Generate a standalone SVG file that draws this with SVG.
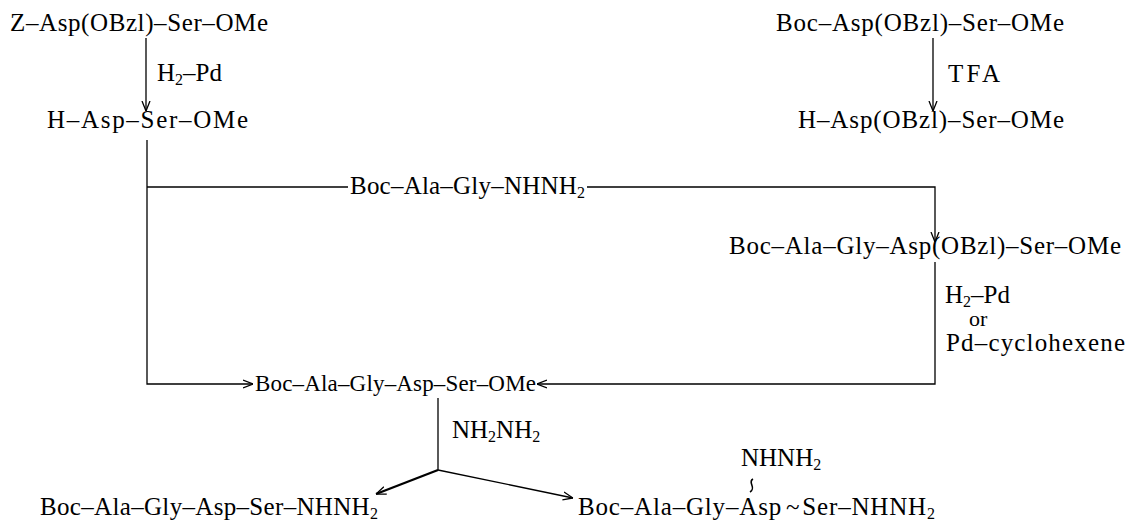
<svg xmlns="http://www.w3.org/2000/svg" width="1133" height="521" viewBox="0 0 1133 521">
<defs>
<style>
text{font-family:"Liberation Serif","Times New Roman",serif;font-size:25px;fill:#000}
.s{font-size:16px}
.ln{stroke:#000;stroke-width:1.3;fill:none}
.bd{stroke:#000;stroke-width:2.4;fill:none}
</style>
<marker id="ah" viewBox="0 0 10 10" refX="10" refY="5" markerWidth="10" markerHeight="10" markerUnits="userSpaceOnUse" orient="auto">
<path d="M0,1 L10,5 L0,9" fill="none" stroke="#000" stroke-width="1.3"/>
</marker>
</defs>
<rect width="1133" height="521" fill="#fff"/>
<g id="connectors">
<line class="ln" x1="146" y1="38" x2="146" y2="111" marker-end="url(#ah)"/>
<line class="ln" x1="933" y1="38" x2="933" y2="111" marker-end="url(#ah)"/>
<polyline class="ln" points="147,140 147,384 253,384" marker-end="url(#ah)"/>
<line class="ln" x1="147" y1="187" x2="348" y2="187"/>
<polyline class="ln" points="587,187 935,187 935,242" marker-end="url(#ah)"/>
<polyline class="ln" points="935,262 935,384 537,384" marker-end="url(#ah)"/>
<line class="ln" x1="438" y1="398" x2="438" y2="470"/>
<line class="bd" x1="438" y1="470" x2="376" y2="494" marker-end="url(#ah)"/>
<line class="ln" x1="438" y1="470" x2="573" y2="498" marker-end="url(#ah)"/>
<path d="M753,479 C747,482 757,488 750,492" fill="none" stroke="#000" stroke-width="1.6"/>
</g>
<g id="n1"><text x="10" y="31" textLength="258" lengthAdjust="spacing">Z–Asp(OBzl)–Ser–OMe</text></g>
<g id="l1"><text x="157" y="81">H<tspan class="s" dy="4">2</tspan><tspan dy="-4">–Pd</tspan></text></g>
<g id="n2"><text x="47" y="128" textLength="201" lengthAdjust="spacing">H–Asp–Ser–OMe</text></g>
<g id="n3"><text x="776" y="31" textLength="288" lengthAdjust="spacing">Boc–Asp(OBzl)–Ser–OMe</text></g>
<g id="l2"><text x="948" y="82" textLength="52" lengthAdjust="spacing">TFA</text></g>
<g id="n4"><text x="798" y="128" textLength="266" lengthAdjust="spacing">H–Asp(OBzl)–Ser–OMe</text></g>
<g id="r1"><text x="350" y="194" textLength="235" lengthAdjust="spacing">Boc–Ala–Gly–NHNH<tspan class="s" dy="4">2</tspan></text></g>
<g id="n5"><text x="729" y="254" textLength="392" lengthAdjust="spacing">Boc–Ala–Gly–Asp(OBzl)–Ser–OMe</text></g>
<g id="l3"><text x="945" y="303">H<tspan class="s" dy="4">2</tspan><tspan dy="-4">–Pd</tspan></text>
<text x="969" y="326" style="font-size:22px">or</text>
<text x="946" y="351" textLength="179" lengthAdjust="spacing">Pd–cyclohexene</text></g>
<g id="n6"><text x="255" y="391" style="font-size:23px" textLength="281" lengthAdjust="spacing">Boc–Ala–Gly–Asp–Ser–OMe</text></g>
<g id="l4"><text x="452" y="438">NH<tspan class="s" dy="4">2</tspan><tspan dy="-4">NH</tspan><tspan class="s" dy="4">2</tspan></text></g>
<g id="n7"><text x="40" y="515" textLength="338" lengthAdjust="spacing">Boc–Ala–Gly–Asp–Ser–NHNH<tspan class="s" dy="4">2</tspan></text></g>
<g id="n8"><text x="741" y="466">NHNH<tspan class="s" dy="4">2</tspan></text>
<text x="578" y="515" textLength="357" lengthAdjust="spacing">Boc–Ala–Gly–Asp<tspan dx="4">~</tspan><tspan dx="2">Ser–NHNH</tspan><tspan class="s" dy="4">2</tspan></text></g>
</svg>
